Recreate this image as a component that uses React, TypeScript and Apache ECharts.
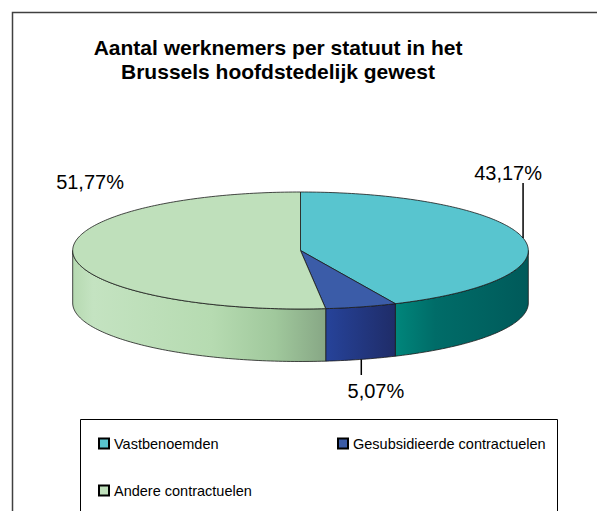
import React, { useEffect, useRef } from 'react';
import * as echarts from 'echarts';

// ---- data ----
const titleLines = ['Aantal werknemers per statuut in het', 'Brussels hoofdstedelijk gewest'];
const categories = ['Vastbenoemden', 'Gesubsidieerde contractuelen', 'Andere contractuelen'];
const shares = [43.17, 5.07, 51.77];

// ---- styles / layout ----
const topColors = ['#58c5cf', '#3b5ca8', '#bfe0bb'];
const sideStops: [number, string][][] = [
  [[0, '#00867b'], [0.3, '#006c68'], [1, '#005a5a']],
  [[0, '#26439a'], [1, '#1f2c68']],
  [[0, '#b6d9b1'], [0.08, '#c4e3c1'], [0.55, '#b6dbb1'], [0.8, '#a0c89c'], [1, '#87a785']],
];
const labelLayout = [
  { leader: -55, dx: -15, dy: -65 },
  { leader: 15.6, dx: 14.6, dy: 31.7 },
  { leader: 0, dx: 17, dy: -124.7 },
];
const FONT = "'Liberation Sans', Arial, Helvetica, sans-serif";
const cx = 300.5, cy = 250.5, rx = 227.8, ry = 58.5, depth = 52.5;
const STROKE = '#1a1a1a';

const total = shares.reduce((s, v) => s + v, 0);
const starts: number[] = [];
shares.reduce((acc, v, i) => { starts[i] = acc; return acc + v; }, 0);

const pt = (deg: number, z: number): number[] => {
  const r = (deg * Math.PI) / 180;
  return [cx + rx * Math.sin(r), cy - ry * Math.cos(r) + z];
};
const arc = (a: number, b: number, z: number): number[][] => {
  const pts: number[][] = [];
  const n = Math.max(2, Math.ceil(Math.abs(b - a)));
  for (let k = 0; k <= n; k++) pts.push(pt(a + ((b - a) * k) / n, z));
  return pts;
};
const fmt = (v: number) => v.toFixed(2).replace('.', ',') + '%';

const makeRender = (i: number) => (params: any, api: any) => {
  const v = api.value(0) as number;
  const st = api.value(1) as number;
  const a = (st / total) * 360;
  const b = ((st + v) / total) * 360;
  const children: any[] = [];
  const s = Math.max(a, 90), e = Math.min(b, 270);
  if (s < e) {
    const top = arc(s, e, 0);
    const bot = arc(e, s, depth);
    const xs = top.map((p) => p[0]);
    const minX = Math.min(...xs), maxX = Math.max(...xs);
    children.push({
      type: 'polygon',
      shape: { points: [...top, ...bot] },
      style: {
        fill: {
          type: 'linear', x: minX, y: 0, x2: maxX, y2: 0, global: true,
          colorStops: sideStops[i].map(([o, c]) => ({ offset: o, color: c })),
        },
        stroke: STROKE, lineWidth: 0.8,
      },
    });
  }
  children.push({
    type: 'polygon',
    shape: { points: [[cx, cy], ...arc(a, b, 0)] },
    style: { fill: topColors[i], stroke: STROKE, lineWidth: 0.8 },
  });
  const m = (a + b) / 2;
  const front = Math.cos((m * Math.PI) / 180) < 0;
  const anc = pt(m, front ? depth : 0);
  const L = labelLayout[i];
  if (L.leader) {
    children.push({
      type: 'line',
      shape: { x1: anc[0], y1: anc[1], x2: anc[0], y2: anc[1] + L.leader },
      style: { stroke: '#000', lineWidth: 1.5 },
    });
  }
  children.push({
    type: 'text',
    x: anc[0] + L.dx,
    y: anc[1] + L.dy,
    style: {
      text: fmt(v), fill: '#000', fontSize: 20, fontFamily: FONT,
      align: 'center', verticalAlign: 'middle',
    },
  });
  return { type: 'group', children };
};

const legendPos = [
  { left: 98, top: 436 },
  { left: 337, top: 436 },
  { left: 98, top: 483 },
];

export default function App() {
  const ref = useRef<HTMLDivElement>(null);
  useEffect(() => {
    const chart = echarts.init(ref.current!, null, { renderer: 'svg' });
    chart.setOption({
      animation: false,
      backgroundColor: '#fff',
      graphic: [
        {
          type: 'rect', shape: { x: 12.5, y: 12.5, width: 700, height: 700 },
          style: { fill: 'none', stroke: '#404040', lineWidth: 1.5 }, silent: true,
        },
        {
          type: 'rect', shape: { x: 80.5, y: 419.5, width: 477, height: 200 },
          style: { fill: 'none', stroke: '#000', lineWidth: 1 }, silent: true,
        },
        {
          type: 'text', x: 278, y: 47.7,
          style: { text: titleLines[0], fill: '#000', fontSize: 21, fontWeight: 'bold', fontFamily: FONT, align: 'center', verticalAlign: 'middle' },
        },
        {
          type: 'text', x: 278, y: 71.7,
          style: { text: titleLines[1], fill: '#000', fontSize: 21, fontWeight: 'bold', fontFamily: FONT, align: 'center', verticalAlign: 'middle' },
        },
      ],
      legend: categories.map((c, i) => ({
        data: [c],
        left: legendPos[i].left,
        top: legendPos[i].top,
        padding: 0,
        icon: 'rect',
        itemWidth: 10,
        itemHeight: 10,
        selectedMode: false,
        itemStyle: { borderColor: '#000', borderWidth: 2 },
        textStyle: { fontSize: 14.5, color: '#000', fontFamily: FONT },
      })),
      series: categories.map((c, i) => ({
        type: 'custom',
        name: c,
        coordinateSystem: 'none',
        silent: true,
        itemStyle: { color: topColors[i] },
        data: [[shares[i], starts[i]]],
        renderItem: makeRender(i),
      })),
    });
    return () => chart.dispose();
  }, []);
  return <div ref={ref} style={{ position: 'fixed', left: 0, top: 0, width: 597, height: 511 }} />;
}
